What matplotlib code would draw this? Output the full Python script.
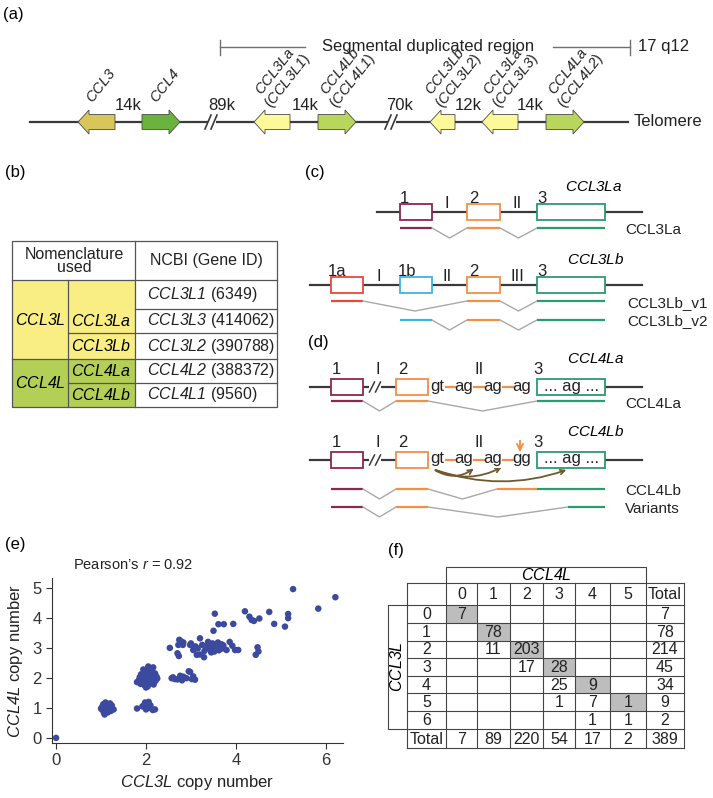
import matplotlib
matplotlib.use('Agg')
import matplotlib.pyplot as plt
from matplotlib.patches import Polygon, Rectangle, FancyArrowPatch

plt.rcParams['font.family'] = ['Liberation Sans', 'DejaVu Sans']
plt.rcParams['mathtext.fontset'] = 'custom'
plt.rcParams['mathtext.it'] = 'Liberation Sans:italic'
plt.rcParams['mathtext.rm'] = 'Liberation Sans:italic'   # digits inside $..$ stay italic too

# ---- data ----
# (a) locus on 17q12
genes_a = ['CCL3', 'CCL4', 'CCL3La\n(CCL3L1)', 'CCL4Lb\n(CCL4L1)',
           'CCL3Lb\n(CCL3L2)', 'CCL3La\n(CCL3L3)', 'CCL4La\n(CCL4L2)']
gaps_a = ['14k', '89k', '14k', '70k', '12k', '14k']

# (b) nomenclature
nom_groups = ['CCL3L', 'CCL4L']
nom_used = ['CCL3La', 'CCL3Lb', 'CCL4La', 'CCL4Lb']
ncbi_names = ['CCL3L1', 'CCL3L3', 'CCL3L2', 'CCL4L2', 'CCL4L1']
ncbi_ids = [6349, 414062, 390788, 388372, 9560]

# (e) copy numbers
ccl3l_cn = [0.0,
            1.02, 1.05, 1.08, 1.10, 1.12, 1.15, 1.18, 1.20, 1.22, 1.25, 1.05, 1.10, 1.15,
            1.08, 1.12, 1.20, 1.03, 1.17, 1.13, 1.06, 1.24, 1.10, 1.16, 1.00, 1.28,
            1.80, 1.92, 1.98, 2.03, 2.08, 2.15, 2.20, 2.06, 1.96, 2.10, 2.00,
            1.80, 1.84, 1.86, 1.88, 1.90, 1.92, 1.93, 1.95, 1.96, 1.97, 1.98, 2.00, 2.00,
            2.01, 2.02, 2.03, 2.04, 2.05, 2.06, 2.07, 2.08, 2.09, 2.10, 2.11, 2.12, 2.13,
            2.14, 2.15, 2.17, 2.18, 2.20, 2.21, 2.23, 2.25, 1.94, 1.89, 2.16, 1.99, 2.04, 1.87,
            2.57, 2.64, 2.76, 2.83, 2.90, 2.98, 3.02, 3.09, 2.70, 2.95, 3.05, 2.60, 2.80,
            2.53, 2.74, 2.72, 2.70, 2.73, 2.78, 2.83, 2.82, 2.98, 3.05, 3.13, 3.29, 3.20,
            3.10, 3.15, 3.25, 3.30, 3.35, 3.40, 3.42, 3.45, 3.48, 3.50, 3.52, 3.55, 3.58,
            3.60, 3.62, 3.65, 3.68, 3.70, 3.72, 3.79, 3.86, 3.92, 3.98, 4.05, 4.44, 4.48,
            4.50, 3.45, 3.38, 3.00, 3.20,
            3.53, 3.50, 3.61, 3.73, 3.94, 4.20, 4.30, 4.35, 4.40, 4.52, 4.74, 4.85, 5.09,
            5.16, 5.16, 5.83, 5.27, 6.21]
ccl4l_cn = [0.0,
            0.95, 1.00, 0.92, 1.05, 0.98, 1.10, 0.95, 1.02, 0.90, 0.97, 1.12, 1.18, 0.85,
            0.78, 0.88, 1.15, 1.05, 1.05, 1.12, 0.85, 1.08, 0.93, 0.92, 0.98, 0.95,
            0.98, 1.05, 1.18, 1.12, 1.00, 0.93, 0.95, 1.20, 1.10, 1.08, 0.95,
            1.86, 1.92, 2.02, 1.80, 1.95, 2.10, 1.85, 2.00, 2.18, 1.75, 1.92, 2.05, 1.68,
            2.25, 1.88, 1.98, 2.12, 2.38, 1.80, 2.30, 1.95, 2.05, 2.20, 1.85, 2.00, 2.28,
            1.92, 2.10, 1.78, 2.02, 2.15, 1.90, 2.05, 1.98, 2.28, 2.12, 2.35, 1.78, 1.72, 1.98,
            1.99, 1.96, 2.07, 2.04, 1.99, 2.20, 1.96, 1.94, 1.95, 2.22, 2.05, 2.02, 1.92,
            3.00, 3.27, 3.10, 2.82, 2.73, 3.22, 3.18, 3.10, 3.10, 2.93, 2.77, 2.69, 3.32,
            3.05, 2.98, 3.10, 2.90, 3.05, 3.12, 2.95, 3.00, 3.15, 3.05, 2.88, 3.10, 3.00,
            3.18, 2.92, 3.05, 3.12, 2.98, 3.08, 2.93, 3.20, 3.07, 2.93, 2.93, 2.77, 3.02,
            2.88, 2.85, 3.20, 3.15, 2.78,
            4.14, 3.57, 3.79, 3.79, 3.80, 4.22, 4.04, 3.93, 3.90, 3.98, 4.20, 3.80, 3.71,
            4.13, 3.99, 4.31, 4.96, 4.69]

# (f) cross-tabulation CCL3L (rows) x CCL4L (columns)
ccl3l_levels = [0, 1, 2, 3, 4, 5, 6]
ccl4l_levels = [0, 1, 2, 3, 4, 5]
counts = [[7, 0, 0, 0, 0, 0],
          [0, 78, 0, 0, 0, 0],
          [0, 11, 203, 0, 0, 0],
          [0, 0, 17, 28, 0, 0],
          [0, 0, 0, 25, 9, 0],
          [0, 0, 0, 1, 7, 1],
          [0, 0, 0, 0, 1, 1]]
row_totals = [7, 78, 214, 45, 34, 9, 2]
col_totals = [7, 89, 220, 54, 17, 2]
grand_total = 389

DARK = '#3a3a3a'
GREY = '#707070'
E1, E1A, E1B, E2, E3 = '#8c2750', '#e8473e', '#3fb3e3', '#f39048', '#2b9b70'

fig = plt.figure(figsize=(7.13, 7.98), dpi=100)
ax = fig.add_axes([0, 0, 1, 1])
ax.set_xlim(0, 713)
ax.set_ylim(798, 0)
ax.axis('off')


def it(s):
    return r'$\mathit{' + s + '}$'


# ---------------- (a) ----------------
ax.text(3, 15, '(a)', fontsize=12, va='center')
ax.plot([220, 305], [47, 47], color=GREY, lw=1)
ax.plot([220, 220], [40, 55], color=GREY, lw=1)
ax.text(428, 46, 'Segmental duplicated region', fontsize=12, ha='center', va='center', color='#222')
ax.plot([553, 630], [47, 47], color=GREY, lw=1)
ax.plot([630, 630], [40, 55], color=GREY, lw=1)
ax.text(638, 46, '17 q12', fontsize=12, va='center', color='#222')

ya = 122
ax.plot([30, 628], [ya, ya], color=DARK, lw=1.6, zorder=1)
ax.text(634, ya, 'Telomere', fontsize=12, va='center', color='#222')

arrows_a = [(78, 115, False, '#d8c65b'), (142, 180, True, '#6ab43e'),
            (254, 290, False, '#fdf99b'), (318, 356, True, '#b7d65b'),
            (430, 455, False, '#fdf99b'), (482, 518, False, '#fdf99b'),
            (546, 584, True, '#b7d65b')]
for (x0, x1, right, col), name in zip(arrows_a, genes_a):
    hl, bh, hh = 11, 7.5, 12
    if right:
        pts = [(x0, ya - bh), (x1 - hl, ya - bh), (x1 - hl, ya - hh), (x1, ya),
               (x1 - hl, ya + hh), (x1 - hl, ya + bh), (x0, ya + bh)]
    else:
        pts = [(x1, ya - bh), (x0 + hl, ya - bh), (x0 + hl, ya - hh), (x0, ya),
               (x0 + hl, ya + hh), (x0 + hl, ya + bh), (x1, ya + bh)]
    ax.add_patch(Polygon(pts, closed=True, fc=col, ec='#4a4a4a', lw=0.6, zorder=3))
    xc = (x0 + x1) / 2
    if '\n' in name:
        top, bot = name.split('\n')
        txt = it(top) + '\n' + '(' + it(bot[1:-1]) + ')'
        ax.text(xc + 3, 112, txt, fontsize=10.5, rotation=52, rotation_mode='anchor',
                ha='left', va='bottom', multialignment='center', color='#222', linespacing=1.0)
    else:
        ax.text(xc - 2, 106, it(name), fontsize=10.5, rotation=52, rotation_mode='anchor',
                ha='left', va='bottom', color='#222')

for xg, lab in zip([128, 222, 305, 400, 468, 530], gaps_a):
    ax.text(xg, 105, lab, fontsize=12, ha='center', va='center', color='#222')

for xb in [212, 392]:
    ax.add_patch(Rectangle((xb - 4, ya - 3), 8, 6, fc='white', ec='none', zorder=2))
    for dx in (-4, 2):
        ax.plot([xb + dx - 3, xb + dx + 3], [ya + 7, ya - 7], color=DARK, lw=1.2, zorder=3)

# ---------------- (b) ----------------
ax.text(5, 172, '(b)', fontsize=12, va='center')
YEL, GRN = '#f9ee83', '#b4cf55'
ax.add_patch(Rectangle((12, 280), 123, 79, fc=YEL, ec='none'))
ax.add_patch(Rectangle((12, 359), 123, 48, fc=GRN, ec='none'))
tl = dict(color='#555', lw=0.9)
ax.add_patch(Rectangle((12, 241), 265, 166, fc='none', ec='#555', lw=0.9))
ax.plot([12, 277], [280, 280], **tl)
ax.plot([135, 277], [309, 309], **tl)
ax.plot([68, 277], [333, 333], **tl)
ax.plot([12, 277], [359, 359], **tl)
ax.plot([68, 277], [383, 383], **tl)
ax.plot([135, 135], [241, 407], **tl)
ax.plot([68, 68], [280, 407], **tl)
ax.text(74, 261, 'Nomenclature\nused', fontsize=11.5, ha='center', va='center', linespacing=0.9, color='#222')
ax.text(206, 261, 'NCBI (Gene ID)', fontsize=11.5, ha='center', va='center', color='#222')
ax.text(40, 320, it(nom_groups[0]), fontsize=11.5, ha='center', va='center')
ax.text(40, 383, it(nom_groups[1]), fontsize=11.5, ha='center', va='center')
for yy, lab in zip([321, 346, 371, 395], nom_used):
    ax.text(101, yy, it(lab), fontsize=11.5, ha='center', va='center')
for yy, nm, gid in zip([294.5, 321, 346, 371, 395], ncbi_names, ncbi_ids):
    ax.text(147, yy, it(nm) + ' (%d)' % gid, fontsize=11.5, ha='left', va='center', color='#222')

# ---------------- (c) / (d) ----------------
ax.text(305, 172, '(c)', fontsize=12, va='center')
ax.text(308, 342, '(d)', fontsize=12, va='center')


def gene_line(y, x0, x1, boxes, marks, numeral_off, number_off):
    ax.plot([x0, x1], [y, y], color=DARK, lw=1.6, zorder=1)
    for bx0, bx1, col in boxes:
        ax.add_patch(Rectangle((bx0, y - 8), bx1 - bx0, 16, fc='white', ec=col, lw=1.3, zorder=2))
    for xm, txt in marks:
        off = numeral_off if txt.startswith('I') else number_off
        ax.text(xm, y - off, txt, fontsize=12, ha='center', va='baseline', color='#222')


def transcript(y, segs, dip=10):
    prev = None
    for x0, x1, col in segs:
        if prev is not None and x0 > prev:
            xm = (prev + x0) / 2
            ax.plot([prev, xm, x0], [y, y + dip, y], color='#a8a8a8', lw=1)
        ax.plot([x0, x1], [y, y], color=col, lw=1.6, solid_capstyle='butt')
        prev = x1


# CCL3La
gene_line(212, 377, 642, [(400, 432, E1), (467, 500, E2), (537, 605, E3)],
          [(404, '1'), (447, 'I'), (474, '2'), (517, 'II'), (542, '3')], 4, 9)
ax.text(594, 187, it('CCL3La'), fontsize=11, ha='center', va='center')
transcript(228, [(400, 432, E1), (467, 500, E2), (537, 605, E3)])
ax.text(625, 230, 'CCL3La', fontsize=11, va='center', color='#222')

# CCL3Lb
gene_line(285, 310, 642, [(331, 363, E1A), (400, 432, E1B), (467, 500, E2), (537, 605, E3)],
          [(337, '1a'), (379, 'I'), (407, '1b'), (447, 'II'), (474, '2'), (517, 'III'), (542, '3')], 4, 9)
ax.text(596, 260, it('CCL3Lb'), fontsize=11, ha='center', va='center')
transcript(301, [(331, 363, E1A), (467, 500, E2), (537, 605, E3)])
transcript(320, [(400, 432, E1B), (467, 500, E2), (537, 605, E3)])
ax.text(627, 303, 'CCL3Lb_v1', fontsize=11, va='center', color='#222')
ax.text(627, 321, 'CCL3Lb_v2', fontsize=11, va='center', color='#222')

# CCL4La / CCL4Lb
for y, last in [(387, 'ag'), (460, 'gg')]:
    gene_line(y, 310, 642, [(331, 363, E1), (396, 428, E2), (537, 605, E3)],
              [(336, '1'), (378, 'I'), (403, '2'), (479, 'II'), (538, '3')], 13, 13)
    ax.add_patch(Rectangle((369, y - 3), 12, 6, fc='white', ec='none', zorder=2))
    for dx in (-3, 3):
        ax.plot([375 + dx - 2.5, 375 + dx + 2.5], [y + 5, y - 5], color=DARK, lw=1.1, zorder=3)
    ax.add_patch(Rectangle((428.5, y - 8), 108, 16, fc='white', ec='none', zorder=1.5))
    for xs_, xe_ in [(446, 455), (474, 484), (503, 513)]:
        ax.plot([xs_, xe_], [y, y], color=E2, lw=1.6, zorder=2)
    for xt, s in zip([437, 464, 493, 522], ['gt', 'ag', 'ag', last]):
        ax.text(xt, y - 1, s, fontsize=12, ha='center', va='center', color='#222', zorder=3)
    ax.text(571, y - 1, '... ag ...', fontsize=12, ha='center', va='center', color='#222', zorder=3)

ax.text(596, 359, it('CCL4La'), fontsize=11, ha='center', va='center')
transcript(401, [(331, 363, E1), (396, 428, E2), (537, 605, E3)])
ax.text(625, 404, 'CCL4La', fontsize=11, va='center', color='#222')

ax.text(596, 432, it('CCL4Lb'), fontsize=11, ha='center', va='center')
ax.annotate('', xy=(520, 455), xytext=(520, 438),
            arrowprops=dict(arrowstyle='->', color=E2, lw=1.4, mutation_scale=11))
BROWN = '#6f5a2e'
for xe, ye, rad in [(476, 467, 0.35), (504, 466, 0.25), (569, 469, 0.18)]:
    ax.add_patch(FancyArrowPatch((433, 469), (xe, ye), connectionstyle='arc3,rad=%s' % rad,
                                 arrowstyle='->', mutation_scale=8, color=BROWN, lw=1.3))
transcript(489, [(331, 363, E1), (396, 428, E2), (497, 537, E2), (537, 605, E3)])
transcript(507, [(331, 363, E1), (396, 428, E2), (568, 605, E3)])
ax.text(625, 491, 'CCL4Lb', fontsize=11, va='center', color='#222')
ax.text(625, 509, 'Variants', fontsize=11, va='center', color='#222')

# ---------------- (e) ----------------
ax.text(5, 545, '(e)', fontsize=12, va='center')
ax.text(73, 565, 'Pearson\u2019s ' + it('r') + ' = 0.92', fontsize=10.5, va='center', color='#222')
ax_e = fig.add_axes([52 / 713, 1 - 743 / 798, (343 - 52) / 713, (743 - 578) / 798])
ax_e.scatter(ccl3l_cn, ccl4l_cn, s=22, color='#3b4a9e', edgecolors='none', zorder=3)
ax_e.set_xlim(-0.09, 6.38)
ax_e.set_ylim(-0.17, 5.33)
ax_e.set_xticks([0, 2, 4, 6])
ax_e.set_yticks([0, 1, 2, 3, 4, 5])
for side in ['top', 'right']:
    ax_e.spines[side].set_visible(False)
for side in ['left', 'bottom']:
    ax_e.spines[side].set_color('#333')
    ax_e.spines[side].set_linewidth(0.8)
ax_e.tick_params(direction='out', length=4, width=0.8, labelsize=12, colors='#333')
ax_e.set_xlabel(it('CCL3L') + ' copy number', fontsize=12, color='#222', labelpad=3)
ax_e.set_ylabel(it('CCL4L') + ' copy number', fontsize=12, color='#222', labelpad=5)

# ---------------- (f) ----------------
ax.text(388, 550, '(f)', fontsize=12, va='center')
xs = [407, 446, 477, 510, 543, 575, 610, 646, 684]
ys = [583, 605, 623, 641, 658, 676, 693, 711, 729, 748]
fl = dict(color='#444', lw=0.8)
for i in range(6):
    ax.add_patch(Rectangle((xs[1 + i], ys[1 + i]), xs[2 + i] - xs[1 + i], ys[2 + i] - ys[1 + i],
                           fc='#bdbdbd', ec='none'))
for x in xs:
    ax.plot([x, x], [ys[0], ys[-1]], **fl)
for y in ys:
    ax.plot([xs[0], xs[-1]], [y, y], **fl)
# CCL4L header box
ax.plot([446, 446, 646, 646], [583, 567, 567, 583], **fl)
ax.text(546, 575, it('CCL4L'), fontsize=11.5, ha='center', va='center')
# CCL3L side box
ax.plot([407, 388, 388, 407], [605, 605, 729, 729], **fl)
ax.text(397.5, 667, it('CCL3L'), fontsize=11.5, ha='center', va='center', rotation=90)


def cell(ci, ri, s):
    ax.text((xs[ci] + xs[ci + 1]) / 2, (ys[ri] + ys[ri + 1]) / 2 + 0.5, s,
            fontsize=11.5, ha='center', va='center', color='#222')


for j, lev in enumerate(ccl4l_levels):
    cell(j + 1, 0, str(lev))
cell(7, 0, 'Total')
for i, lev in enumerate(ccl3l_levels):
    cell(0, i + 1, str(lev))
    for j in range(6):
        if counts[i][j]:
            cell(j + 1, i + 1, str(counts[i][j]))
    cell(7, i + 1, str(row_totals[i]))
cell(0, 8, 'Total')
for j, tot in enumerate(col_totals):
    cell(j + 1, 8, str(tot))
cell(7, 8, str(grand_total))

fig.savefig('out.png', dpi=100)
